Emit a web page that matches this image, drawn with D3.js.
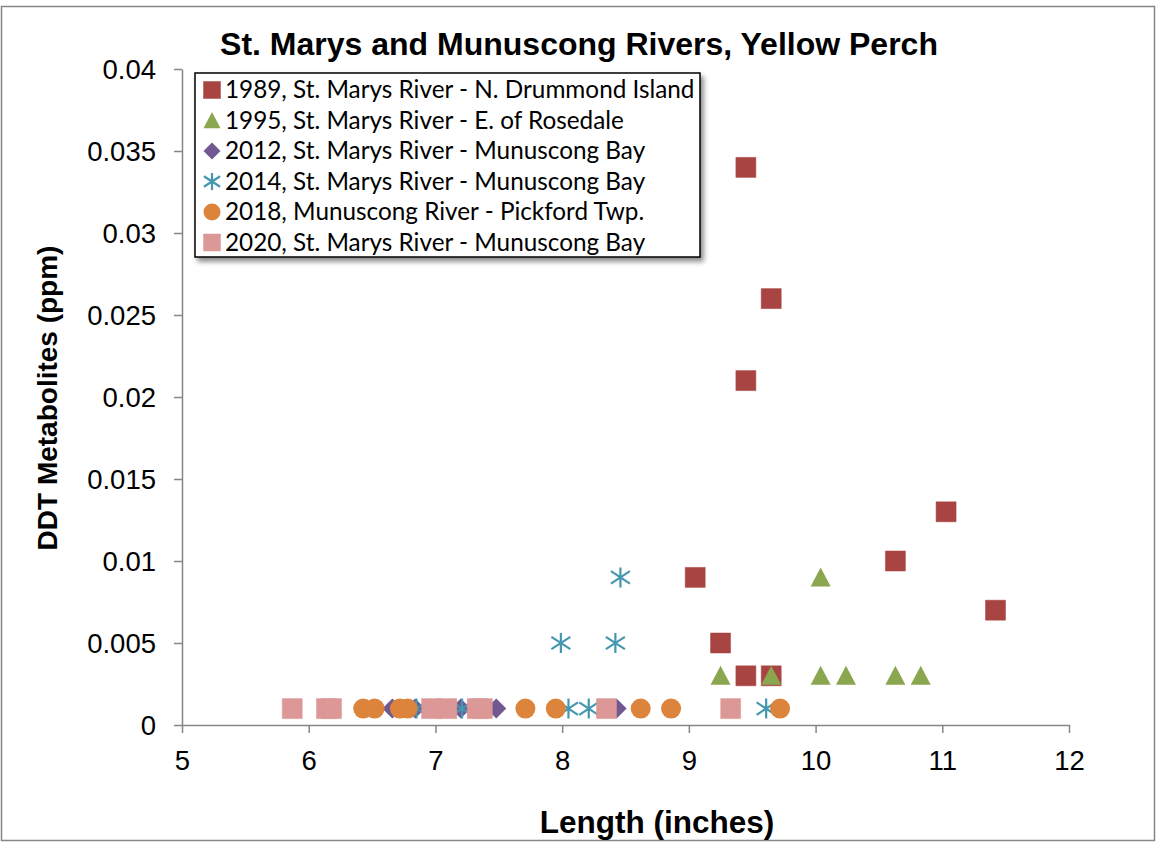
<!DOCTYPE html>
<html><head><meta charset="utf-8">
<script src="https://cdn.jsdelivr.net/npm/d3@7"></script>
<style>body{margin:0;background:#fff}</style>
</head><body><svg id="c" width="1156" height="842"></svg>
<script>
// ---- data ----
const seriesNames = [
  "1989, St. Marys River - N. Drummond Island",
  "1995, St. Marys River - E. of Rosedale",
  "2012, St. Marys River - Munuscong Bay",
  "2014, St. Marys River - Munuscong Bay",
  "2018, Munuscong River - Pickford Twp.",
  "2020, St. Marys River - Munuscong Bay"
];
const seriesColors = ["#A84442", "#8AA64E", "#715891", "#4398B0", "#DD843C", "#DC9896"];
const seriesShapes = ["square", "triangle", "diamond", "star", "circle", "square"];

const len1989 = [9.45, 9.65, 9.45, 11.03, 10.63, 9.05, 11.42, 9.25, 9.45, 9.65];
const ddt1989 = [0.034, 0.026, 0.021, 0.013, 0.010, 0.009, 0.007, 0.005, 0.003, 0.003];
const len1995 = [10.04, 9.25, 9.65, 10.04, 10.24, 10.63, 10.83];
const ddt1995 = [0.009, 0.003, 0.003, 0.003, 0.003, 0.003, 0.003];
const len2012 = [6.66, 6.84, 7.2, 7.48, 8.43];
const ddt2012 = [0.001, 0.001, 0.001, 0.001, 0.001];
const len2014 = [8.46, 7.99, 8.42, 6.85, 7.21, 8.05, 8.21, 9.61];
const ddt2014 = [0.009, 0.005, 0.005, 0.001, 0.001, 0.001, 0.001, 0.001];
const len2018 = [6.43, 6.52, 6.72, 6.78, 7.71, 7.95, 8.62, 8.86, 9.72];
const ddt2018 = [0.001, 0.001, 0.001, 0.001, 0.001, 0.001, 0.001, 0.001, 0.001];
const len2020 = [5.87, 6.14, 6.18, 6.97, 7.09, 7.33, 7.37, 8.35, 9.33];
const ddt2020 = [0.001, 0.001, 0.001, 0.001, 0.001, 0.001, 0.001, 0.001, 0.001];

const xTickValues = [5, 6, 7, 8, 9, 10, 11, 12];
const xTickLabels = ["5", "6", "7", "8", "9", "10", "11", "12"];
const yTickValues = [0, 0.005, 0.01, 0.015, 0.02, 0.025, 0.03, 0.035, 0.04];
const yTickLabels = ["0", "0.005", "0.01", "0.015", "0.02", "0.025", "0.03", "0.035", "0.04"];

const titleText = "St. Marys and Munuscong Rivers, Yellow Perch";
const xTitle = "Length (inches)";
const yTitle = "DDT Metabolites (ppm)";

const seriesLen = [len1989, len1995, len2012, len2014, len2018, len2020];
const seriesDdt = [ddt1989, ddt1995, ddt2012, ddt2014, ddt2018, ddt2020];

// ---- drawing ----
const svg = d3.select("#c");
const axisColor = "#868686";
const sans = "'Liberation Sans', Arial, sans-serif";

const defs = svg.append("defs");
const f = defs.append("filter").attr("id", "sh").attr("x", "-10%").attr("y", "-10%").attr("width", "130%").attr("height", "130%");
f.append("feDropShadow").attr("dx", 3).attr("dy", 4).attr("stdDeviation", 2.5).attr("flood-color", "#000").attr("flood-opacity", 0.45);

// outer border
svg.append("rect").attr("x", 1.5).attr("y", 6.5).attr("width", 1153).attr("height", 834)
  .attr("fill", "#fff").attr("stroke", axisColor).attr("stroke-width", 1.5);

const x = d3.scaleLinear().domain([5, 12]).range([182, 1069]);
const y = d3.scaleLinear().domain([0, 0.04]).range([725, 69]);

const xAxis = svg.append("g").attr("transform", "translate(0,725)")
  .call(d3.axisBottom(x).tickValues(xTickValues).tickFormat((d, i) => xTickLabels[i]).tickSize(8).tickSizeOuter(0).tickPadding(18));
const yAxis = svg.append("g").attr("transform", "translate(182,0)")
  .call(d3.axisLeft(y).tickValues(yTickValues).tickFormat((d, i) => yTickLabels[i]).tickSize(8).tickSizeOuter(0).tickPadding(18));
[xAxis, yAxis].forEach(g => {
  g.select(".domain").attr("stroke", axisColor).attr("stroke-width", 1.5);
  g.selectAll(".tick line").attr("stroke", axisColor).attr("stroke-width", 1.5);
  g.selectAll(".tick text").attr("fill", "#000").style("font-family", sans).style("font-size", "27.5px");
});
yAxis.selectAll(".tick text").attr("dy", "0.36em");
xAxis.selectAll(".tick text").attr("dy", "0.68em");

// titles
svg.append("text").attr("x", 579).attr("y", 55).attr("text-anchor", "middle")
  .style("font-family", sans).style("font-weight", "bold").style("font-size", "32px").text(titleText);
svg.append("text").attr("x", 657).attr("y", 833).attr("text-anchor", "middle")
  .style("font-family", sans).style("font-weight", "bold").style("font-size", "31.5px").text(xTitle);
svg.append("text").attr("transform", "translate(57,398) rotate(-90)").attr("text-anchor", "middle")
  .style("font-family", sans).style("font-weight", "bold").style("font-size", "28px").text(yTitle);

// marker shapes
function shapePath(shape, s) {
  const h = s / 2;
  switch (shape) {
    case "square": return `M${-h},${-h}H${h}V${h}H${-h}Z`;
    case "triangle": return `M0,${-s*0.5}L${h},${s*0.45}L${-h},${s*0.45}Z`;
    case "diamond": return `M0,${-h}L${h},0L0,${h}L${-h},0Z`;
    case "circle": return d3.symbol(d3.symbolCircle, Math.PI * h * h)();
    case "star": {
      const a = h * 0.95, b = h * 0.62;
      return `M0,${-h}V${h}M${-a},${-b}L${a},${b}M${-a},${b}L${a},${-b}`;
    }
  }
}
function drawMarker(g, shape, color, s) {
  const p = g.append("path").attr("d", shapePath(shape, s));
  if (shape === "star") p.attr("fill", "none").attr("stroke", color).attr("stroke-width", 2.2);
  else p.attr("fill", color);
  if (shape === "square") p.attr("stroke", color).attr("stroke-width", 0.5).attr("stroke-linejoin", "round");
  return p;
}

// points
seriesNames.forEach((name, i) => {
  const g = svg.append("g");
  const pts = seriesLen[i].map((v, j) => [v, seriesDdt[i][j]]);
  pts.forEach(([lx, ly]) => {
    const m = g.append("g").attr("transform", `translate(${x(lx)},${y(ly)})`);
    drawMarker(m, seriesShapes[i], seriesColors[i], 20);
  });
});

// legend
const lg = svg.append("g");
lg.append("rect").attr("x", 195).attr("y", 73).attr("width", 505).attr("height", 184)
  .attr("fill", "#fff").attr("stroke", "#000").attr("stroke-width", 1.5).attr("filter", "url(#sh)");
seriesNames.forEach((name, i) => {
  const cy = 90 + i * 30.5;
  const m = lg.append("g").attr("transform", `translate(212,${cy})`);
  drawMarker(m, seriesShapes[i], seriesColors[i], 17);
  lg.append("text").attr("x", 225).attr("y", cy + 8)
    .style("font-family", "Lato, 'Open Sans', sans-serif").style("font-size", "24.3px").attr("fill", "#000").text(name);
});
</script></body></html>
